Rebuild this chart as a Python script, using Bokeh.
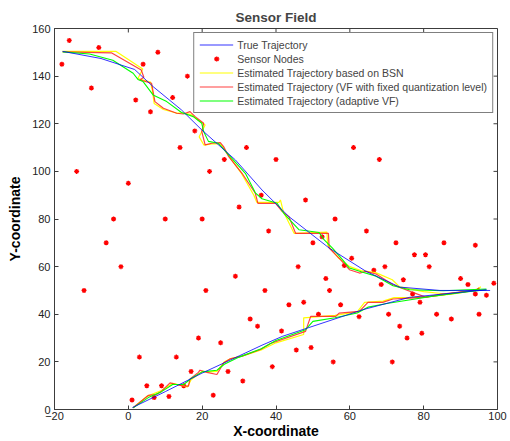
from bokeh.plotting import figure
from bokeh.models import Legend, LegendItem, Range1d, FixedTicker
from bokeh.embed import file_html
from bokeh.resources import INLINE

# Sensor nodes
sensor_x = [-18, -16, -8, 8, 4, -10, 2, 12, 16, 6, 18, 14, 32, 26, 22, -14, 0, 30, 40, 61, 68,
            36, 48, 56, -4, -6, -2, -12, 10, 20, 29, 21, 33, 35, 19, 25, 3, 13, 17, 27, 5, 9,
            15, 7, 11, 1, 23, 31, 38, 64.5, 50, 52.5, 72.5, 85.5, 94, 77.5, 80.5, 60.5, 58.5,
            46, 69.5, 81.5, 66.5, 53.5, 74.5, 90, 68.5, 92, 99, 37, 54.5, 77, 94, 97, 79, 47.5,
            43.5, 57.5, 51.5, 70.5, 83.5, 95, 62.5, 87.5, 73.5, 41.5, 79.5, 75.5, 49.5, 45.5,
            39, 55.5, 71.5]
sensor_y = [145, 155, 152, 150, 145, 135, 130, 131, 140, 125, 117, 110, 110, 105, 100, 100, 95, 85,
            105, 110, 105, 90, 88, 80, 80, 70, 60, 50, 80, 80, 56, 50, 38, 35, 30, 28, 22, 22, 16,
            16, 10, 10, 10, 5, 5.5, 4, 6, 12, 75, 75, 70, 72.5, 70, 70, 69, 65, 65, 63.5, 60.5,
            60, 60, 60, 58.5, 55, 54.5, 55, 52.5, 52.5, 53, 50, 50, 48.5, 48.5, 48, 45, 45, 44,
            44, 40, 40, 40, 40, 39, 38, 35, 33, 32, 30, 26, 25, 18, 20, 20]

# True trajectory (two branches)
true_up_x = [-17.8, -7.4, 1.7, 6.7, 14.4, 19.9, 29, 36.2, 43.5, 54.4, 64.4, 73.5, 84.4, 98]
true_up_y = [150.4, 147.4, 142.8, 135.6, 125.8, 117.4, 104.8, 92.2, 81, 67.8, 58, 51.4, 50, 50]
true_lo_x = [1.1, 10, 20, 30, 36.2, 41.7, 48.5, 63.5, 76.2, 88, 97]
true_lo_y = [0.8, 7.5, 15.3, 22.5, 27, 30.7, 34.2, 41.9, 47.1, 48.9, 50.3]

# Estimated trajectory based on BSN (yellow)
bsn_up_x = [-17.8, -3.4, 3.9, 2.6, 6.0, 6.5, 7.0, 9.5, 13, 15, 17, 20.8, 19.2, 20.5, 22.6, 25, 26.5,
            30.5, 34, 34.8, 40.8, 41.2, 42, 44.9, 53.8, 54, 57, 60, 63, 67, 71.5, 73.5, 80, 86,
            94, 95.5]
bsn_up_y = [150.4, 150.4, 143, 139, 137.5, 134, 128.5, 126, 124.5, 124.5, 123.8, 119.5, 114.5,
            111, 111.5, 111.5, 108, 99.5, 90, 87, 87, 88, 83, 74, 74.5, 69, 63.5, 60, 58.3, 57.5,
            54.5, 51.5, 49.5, 48.5, 50, 51.5]
bsn_lo_x = [1.3, 5, 9, 12, 14.5, 16, 17, 20, 22, 24, 26, 28, 31, 36, 40, 47.5, 47.5, 56, 62, 64,
            69, 72, 76, 82, 88, 94, 95]
bsn_lo_y = [0.7, 5.5, 8, 11, 10, 9.5, 12.5, 16, 15.8, 16, 20, 21.5, 22.5, 25, 28, 31.5, 38.5,
            39.5, 41, 45, 45.5, 47, 47, 47.5, 48.5, 50, 51]

# Estimated trajectory, VF with fixed quantization level (red)
vf_up_x = [-17.8, -4.6, 3.5, 4.2, 3.1, 6.3, 7.2, 9.5, 13.1, 14.9, 16.7, 18.1, 20.4, 19.9, 20.8,
           22.6, 24.9, 25.8, 27.2, 30.8, 34.4, 35.1, 39.9, 41.7, 43.5, 45.3, 54.2, 54.4, 57.1,
           59.9, 62.6, 64.4, 67.1, 71.7, 73.9, 80.5, 85, 94, 95]
vf_up_y = [150.2, 149.8, 142.6, 139.5, 138.4, 137, 129.3, 126.5, 124.4, 124.1, 125.1, 123, 120.2,
           116.7, 111.1, 111.8, 112.1, 110.4, 106.2, 99.2, 90.8, 86.6, 86.6, 83.1, 81, 74, 74,
           67.8, 63.6, 58.7, 57.3, 58, 56.9, 52.4, 51, 47.2, 48.5, 50, 51]
vf_lo_x = [1.3, 5.4, 7.6, 9, 11.3, 13.1, 14.9, 16.3, 16.7, 19, 19.4, 21.3, 24, 25.8, 27.6, 30.8,
           35.8, 38.5, 48, 49.4, 56.2, 57.1, 62.6, 64.9, 68.9, 71.7, 76.2, 80.7, 93.5, 95.3]
vf_lo_y = [0.7, 5.9, 6.3, 7.7, 11.2, 10.5, 9.8, 9.8, 12.8, 15.6, 16.5, 15.6, 14.7, 19.5, 21.3,
           22.4, 25.2, 27.7, 32.8, 39.1, 39.1, 40.5, 41.2, 45, 45, 46.4, 46.8, 47.2, 50, 50.6]

# Estimated trajectory, adaptive VF (green)
avf_up_x = [-17.8, -10.5, -4.2, 1.3, 2.6, 4, 6.7, 10.4, 14.4, 17.6, 19.9, 20.4, 21.7, 24.4, 27.2,
            31.7, 34.4, 36.2, 40.3, 42.1, 46.2, 51.7, 53, 55.3, 58, 59.9, 63.5, 67.1, 71.7, 76.2,
            85.3, 97]
avf_up_y = [150.2, 149.3, 146.7, 141.2, 138.6, 137.7, 132.1, 129.3, 124.7, 123, 120.2, 116.7,
            112.6, 111.8, 106.9, 99.2, 91, 88.5, 86.6, 82.4, 75.5, 74.3, 71.3, 67.8, 62.9, 59.4,
            57.6, 56, 52, 50.3, 49.9, 50.6]
avf_lo_x = [1.3, 5.4, 9, 12, 15, 17, 20, 24, 26, 30, 36, 40, 48, 50, 56, 62, 65, 70, 76, 82, 92, 97]
avf_lo_y = [0.7, 5, 7.5, 10.5, 10.5, 13, 15.8, 16.5, 19, 22, 25.5, 29, 33.5, 37, 38.5, 40.5, 43,
            44.5, 46, 47.5, 49.5, 50.3]

x_ticks = [-20, 0, 20, 40, 60, 80, 100]
y_ticks = [0, 20, 40, 60, 80, 100, 120, 140, 160]
X0, X1, Y0, Y1 = -20, 100, 0, 160

FONT = "Liberation Sans"
AX = "#3c3c3c"
W, H = 510, 441
BL, BR, BT, BB = 54, 13, 28, 31

p = figure(width=W, height=H, output_backend="svg", toolbar_location=None,
           x_range=Range1d(X0, X1), y_range=Range1d(Y0, Y1),
           min_border_left=BL, min_border_right=BR, min_border_top=BT, min_border_bottom=BB)
p.title.text = "Sensor Field"
p.title.align = "center"
p.title.vertical_align = "top"
p.title.text_font = FONT
p.title.text_font_size = "13.5px"
p.title.text_font_style = "bold"
p.title.offset = 0
p.title.standoff = 4
p.grid.visible = False
p.outline_line_color = AX
p.background_fill_color = "white"

for ax in (p.xaxis[0], p.yaxis[0]):
    ax.major_tick_in = 4
    ax.major_tick_out = 0
    ax.minor_tick_in = 0
    ax.minor_tick_out = 0
    ax.axis_line_color = AX
    ax.major_tick_line_color = AX
    ax.major_label_text_font = FONT
    ax.major_label_text_font_size = "11px"
    ax.major_label_text_color = "#222222"
    ax.axis_label_text_font = FONT
    ax.axis_label_text_font_size = "14px"
    ax.axis_label_text_font_style = "bold"
    ax.axis_label_text_color = "black"
p.xaxis[0].ticker = FixedTicker(ticks=x_ticks)
p.yaxis[0].ticker = FixedTicker(ticks=y_ticks)
p.xaxis[0].axis_label = "X-coordinate"
p.yaxis[0].axis_label = "Y-coordinate"
p.xaxis[0].major_label_standoff = 2
p.xaxis[0].axis_label_standoff = 0
p.yaxis[0].major_label_standoff = 4
p.yaxis[0].axis_label_standoff = 6

# inward ticks on the top and right edges of the box (MATLAB style)
fw = W - BL - BR
fh = H - BT - BB
dy = 4 * (Y1 - Y0) / fh
dx = 4 * (X1 - X0) / fw
p.segment(x0=x_ticks, y0=[Y1] * len(x_ticks), x1=x_ticks, y1=[Y1 - dy] * len(x_ticks),
          line_color=AX, line_width=1)
p.segment(x0=[X1] * len(y_ticks), y0=y_ticks, x1=[X1 - dx] * len(y_ticks), y1=y_ticks,
          line_color=AX, line_width=1)

r_sens = p.scatter(sensor_x, sensor_y, marker="asterisk", size=5, line_width=1.3, color="#ff0000")
r_bsn = p.line(bsn_up_x, bsn_up_y, line_color="#ffff00", line_width=1.2)
p.line(bsn_lo_x, bsn_lo_y, line_color="#ffff00", line_width=1.2)
r_vf = p.line(vf_up_x, vf_up_y, line_color="#ff2020", line_width=1.2, line_alpha=0.85)
p.line(vf_lo_x, vf_lo_y, line_color="#ff2020", line_width=1.2, line_alpha=0.85)
r_avf = p.line(avf_up_x, avf_up_y, line_color="#00ff00", line_width=1.1)
p.line(avf_lo_x, avf_lo_y, line_color="#00ff00", line_width=1.1)
r_true = p.line(true_up_x, true_up_y, line_color="#0000ff", line_width=1, line_alpha=0.8)
p.line(true_lo_x, true_lo_y, line_color="#0000ff", line_width=1, line_alpha=0.8)

legend = Legend(items=[
    LegendItem(label="True Trajectory", renderers=[r_true]),
    LegendItem(label="Sensor Nodes", renderers=[r_sens]),
    LegendItem(label="Estimated Trajectory based on BSN", renderers=[r_bsn]),
    LegendItem(label="Estimated Trajectory (VF with fixed quantization level)", renderers=[r_vf]),
    LegendItem(label="Estimated Trajectory (adaptive VF)", renderers=[r_avf]),
], location="top_right")
legend.label_text_font = FONT
legend.label_text_font_size = "10.5px"
legend.label_height = 13
legend.glyph_height = 13
legend.glyph_width = 34
legend.spacing = 1
legend.padding = 5
legend.margin = 4
legend.label_standoff = 4
legend.border_line_color = "black"
legend.background_fill_alpha = 1
p.add_layout(legend)

open("out.html", "w").write(file_html(p, INLINE))
